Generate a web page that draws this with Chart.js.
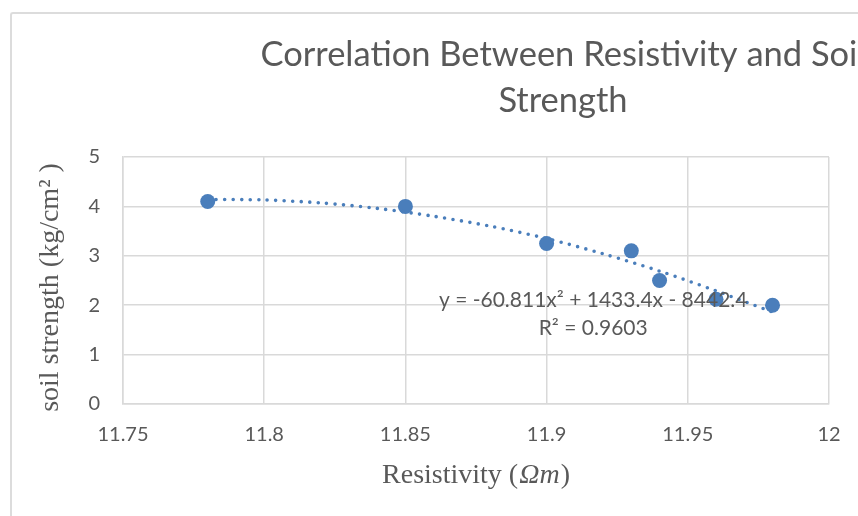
<!DOCTYPE html>
<html><head><meta charset="utf-8">
<script src="https://cdn.jsdelivr.net/npm/chart.js@4.4.1/dist/chart.umd.min.js"></script>
<style>
html,body{margin:0;padding:0;width:858px;height:516px;overflow:hidden;background:#fff;}
#box{position:absolute;left:10px;top:12px;width:1102px;height:502px;border-left:2px solid #dcdcdc;border-top:2px solid #dcdcdc;border-top-left-radius:3px;}
canvas{display:block;}
</style></head><body>
<div id="box"><canvas id="c" width="1102" height="502"></canvas></div>
<script>
const resistivity = [11.78, 11.85, 11.90, 11.93, 11.94, 11.96, 11.98];
const soilStrength = [4.1, 4.0, 3.25, 3.1, 2.5, 2.12, 2.0];
const trendX = [11.78, 11.80, 11.82, 11.84, 11.86, 11.88, 11.90, 11.92, 11.94, 11.96, 11.98];
const trendY = [4.14, 4.13, 4.07, 3.96, 3.80, 3.60, 3.35, 3.04, 2.69, 2.29, 1.86];
const xTicks = [11.75, 11.8, 11.85, 11.9, 11.95, 12];
const yTicks = [0, 1, 2, 3, 4, 5];
const titleLines = ['Correlation Between Resistivity and Soil', 'Strength'];
const xTitleParts = ['Resistivity (', '\u03A9m', ')'];
const yTitle = 'soil strength (kg/cm\u00B2 )';
const equationLines = ['y = -60.811x\u00B2 + 1433.4x - 8442.4', 'R\u00B2 = 0.9603'];

const GRID = '#d9d9d9', TEXT = '#595959', BLUE = '#4a7ebb';

const eqPlugin = {
  id: 'eq',
  afterDatasetsDraw(chart) {
    const {ctx, scales: {x, y}} = chart;
    const px = x.getPixelForValue(11.9165), py = y.getPixelForValue(2.105);
    ctx.save();
    ctx.font = '21px Lato';
    ctx.fillStyle = TEXT;
    ctx.textAlign = 'center';
    ctx.textBaseline = 'middle';
    ctx.fillText(equationLines[0], px, py);
    ctx.fillText(equationLines[1], px, py + 28);
    ctx.restore();
  }
};

// x-axis title with italic "Ωm"
const xTitlePlugin = {
  id: 'xtitle',
  afterDraw(chart) {
    const {ctx, chartArea} = chart;
    const cx = (chartArea.left + chartArea.right) / 2, cy = 462;
    const [p1, p2, p3] = xTitleParts;
    ctx.save();
    ctx.fillStyle = TEXT;
    ctx.textBaseline = 'middle';
    ctx.textAlign = 'left';
    const f1 = '28px "Liberation Serif"', f2 = 'italic 28px "Liberation Serif"';
    ctx.font = f1; const w1 = ctx.measureText(p1).width, w3 = ctx.measureText(p3).width;
    ctx.font = f2; const w2 = ctx.measureText(p2).width + 2;
    let x0 = cx - (w1 + w2 + w3) / 2;
    ctx.font = f1; ctx.fillText(p1, x0, cy);
    ctx.font = f2; ctx.fillText(p2, x0 + w1 + 1, cy);
    ctx.font = f1; ctx.fillText(p3, x0 + w1 + w2, cy);
    ctx.restore();
  }
};

function build() {
  Chart.defaults.font.family = 'Lato';
  Chart.defaults.color = TEXT;
  new Chart(document.getElementById('c'), {
    type: 'scatter',
    data: {
      datasets: [
        {
          label: 'trend',
          data: trendX.map((v, i) => ({x: v, y: trendY[i]})),
          showLine: true,
          borderColor: BLUE,
          borderWidth: 3.6,
          borderDash: [0, 8.5],
          borderCapStyle: 'round',
          pointRadius: 0,
          tension: 0.3,
          fill: false,
          order: 0
        },
        {
          label: 'data',
          data: resistivity.map((v, i) => ({x: v, y: soilStrength[i]})),
          backgroundColor: BLUE,
          borderColor: BLUE,
          pointRadius: 7.5,
          pointBorderWidth: 0,
          order: 1
        }
      ]
    },
    options: {
      responsive: false,
      animation: false,
      layout: {padding: 0},
      plugins: {
        legend: {display: false},
        tooltip: {enabled: false},
        title: {
          display: true,
          text: titleLines,
          color: TEXT,
          font: {family: 'Lato', size: 34.5, weight: 'normal', lineHeight: 1.333},
          padding: {top: 18, bottom: 33}
        }
      },
      scales: {
        x: {
          type: 'linear',
          min: 11.75, max: 12,
          afterBuildTicks: s => { s.ticks = xTicks.map(v => ({value: v})); },
          afterFit: s => { s.height = 112; },
          ticks: {color: TEXT, font: {size: 20}, padding: 19, callback: v => String(v)},
          grid: {color: GRID, lineWidth: 1.5, drawTicks: false},
          border: {color: GRID, width: 1.5},
          title: {display: false}
        },
        y: {
          type: 'linear',
          min: 0, max: 5,
          afterBuildTicks: s => { s.ticks = yTicks.map(v => ({value: v})); },
          afterFit: s => { s.width = 111; },
          ticks: {color: TEXT, font: {size: 20}, padding: 23, callback: v => String(v)},
          grid: {color: GRID, lineWidth: 1.5, drawTicks: false},
          border: {color: GRID, width: 1.5},
          title: {display: true, text: yTitle + '  ', color: TEXT,
                  font: {family: 'Liberation Serif', size: 28, lineHeight: 1.2},
                  padding: {top: 22, bottom: 0}}
        },
        spacer: {
          type: 'linear',
          position: 'right',
          display: true,
          afterFit: s => { s.width = 285; },
          ticks: {display: false},
          grid: {display: false, drawOnChartArea: false},
          border: {display: false}
        }
      }
    },
    plugins: [eqPlugin, xTitlePlugin]
  });
}
if (document.fonts && document.fonts.load) {
  Promise.all([document.fonts.load('20px Lato'), document.fonts.load('28px "Liberation Serif"'), document.fonts.load('italic 28px "Liberation Serif"')]).then(build, build);
} else build();
</script>
</body></html>
